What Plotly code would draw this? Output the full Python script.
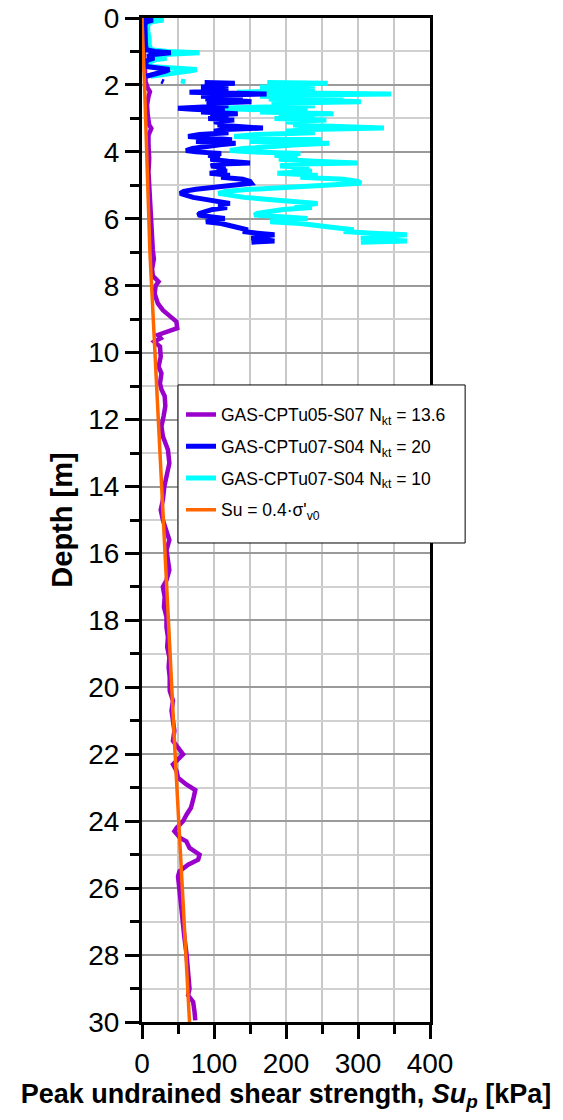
import plotly.graph_objects as go

# --- GAS-CPTu05-S07: peak undrained shear strength (Nkt = 13.6) ---
depth_cptu05 = [0.0, 0.3, 0.6, 1.0, 1.3, 1.6, 1.9, 2.1, 2.2, 2.35, 2.6, 2.9, 3.2, 3.3, 3.5, 3.8,
                4.2, 4.6, 5.0, 5.4, 5.8, 6.2, 6.6, 6.93, 7.2, 7.5, 7.7, 7.88, 8.0, 8.23, 8.53,
                8.73, 8.93, 9.07, 9.27, 9.37, 9.47, 9.57, 9.67, 9.82, 10.12, 10.42, 10.62,
                10.92, 11.1, 11.3, 11.6, 11.9, 12.2, 12.5, 12.9, 13.3, 13.7, 14.0, 14.4, 14.7,
                15.0, 15.3, 15.6, 15.9, 16.2, 16.5, 16.8, 17.0, 17.3, 17.6, 17.9, 18.2, 18.5,
                18.8, 19.1, 19.4, 19.7, 20.1, 20.4, 20.7, 21.0, 21.3, 21.6, 21.8, 22.0, 22.15,
                22.3, 22.5, 22.7, 22.9, 23.07, 23.27, 23.6, 23.8, 24.0, 24.2, 24.3, 24.5, 24.6,
                24.8, 25.0, 25.15, 25.3, 25.5, 25.65, 26.05, 26.55, 27.05, 27.5, 28.0, 28.5,
                29.0, 29.2, 29.4, 29.7, 29.95]
su_cptu05 = [0, 1, 2, 2.5, 3, 4, 5, 8, 11, 9, 7, 8, 10, 13, 9, 9,
             10, 9, 10, 11, 12, 12, 14, 15, 16.5, 14, 15, 23, 19, 17.5, 22,
             29, 40, 47.7, 49, 34, 22, 26, 17, 25, 26, 23, 27,
             25, 27, 31.5, 32.4, 30, 27, 29, 36, 38, 34, 31, 29, 26,
             29, 34, 38, 34, 36, 38, 34, 29, 31.5, 30.5, 34, 34, 36,
             35, 38, 37, 38.5, 38.5, 43, 41, 43, 45, 43, 50, 57, 50,
             43, 48, 50, 61.6, 74, 72, 68, 62, 57, 48, 45, 53, 61.6,
             66, 80, 78, 64, 52, 50, 52, 54, 57, 59, 62, 64,
             66, 64, 71, 73, 74]

# --- GAS-CPTu07-S04: net cone resistance qnet [MPa] (None = no reading) ---
depth_cptu07 = [0.00, 0.03, 0.06, 0.09, 0.12, 0.2, 0.4, 0.6, 0.8, 0.95, 1.0, 1.04, 1.07, 1.1,
                1.15, 1.2, 1.25, 1.32, 1.45, 1.5, 1.54, 1.58, 1.63, 1.68, 1.74, None, 1.88,
                1.91, None, 1.93, 1.95, 1.98, 2.02, 2.06, 2.1, 2.14, 2.18, 2.22, 2.25, 2.27,
                2.3, 2.34, 2.38, 2.42, 2.46, 2.5, 2.54, 2.58, 2.62, 2.66, 2.7, 2.73, 2.77,
                2.81, 2.86, 2.9, 2.95, 3.0, 3.05, 3.1, 3.15, 3.2, 3.25, 3.29, 3.33, 3.38,
                3.43, 3.48, 3.54, 3.59, 3.64, 3.69, 3.74, 3.79, 3.85, 3.9, 3.96, 4.0, 4.05,
                4.1, 4.16, 4.22, 4.28, 4.33, 4.37, 4.42, 4.47, 4.52, 4.58, 4.64, 4.7, 4.76,
                4.82, 4.88, 4.94, 5.0, 5.06, 5.12, 5.18, 5.24, 5.3, 5.36, 5.42, 5.48, 5.54,
                5.6, 5.66, 5.72, 5.78, 5.84, 5.89, 5.94, 5.99, 6.04, 6.09, 6.14, 6.2, 6.26,
                6.33, 6.38, 6.43, 6.48, 6.53, 6.58, 6.62, 6.66, 6.7]
qnet_cptu07 = [0.06, 0.16, 0.30, 0.20, 0.12, 0.08, 0.08, 0.10, 0.10, 0.12, 0.36, 0.80, 0.60, 0.24,
               0.16, 0.34, 0.18, 0.10, 0.12, 0.44, 0.76, 0.68, 0.50, 0.24, 0.12, None, 0.54,
               0.60, None, 1.74, 2.58, 1.90, 2.40, 1.64, 2.40, 1.70, 2.00, 1.32, 2.40, 3.46,
               2.20, 1.64, 2.80, 1.76, 2.60, 3.04, 2.00, 1.80, 2.40, 1.30, 1.00, 1.40, 2.30,
               1.64, 2.66, 1.90, 2.40, 1.84, 2.56, 2.00, 2.30, 2.10, 2.80, 3.36, 2.30, 2.00,
               2.40, 1.60, 1.28, 1.80, 2.50, 1.50, 2.60, 2.16, 1.70, 1.40, 1.22, 1.50, 2.20,
               1.84, 2.16, 1.90, 2.40, 3.00, 2.00, 1.92, 2.32, 2.08, 2.36, 1.88, 2.44, 2.20,
               2.80, 3.00, 3.04, 2.40, 1.90, 1.50, 1.16, 1.06, 1.24, 1.42, 1.76, 2.02, 2.44,
               2.12, 2.36, 1.96, 1.76, 1.60, 1.56, 2.00, 2.30, 1.92, 1.78, 2.20, 2.50, 2.66,
               2.94, 2.80, 3.20, 3.68, 3.30, 3.04, 3.30, 3.68, 3.04]
nkt_high = 20
nkt_low = 10

# --- Reference line: Su = 0.4 * effective vertical stress ---
depth_sigma = [0, 2, 7, 14, 22, 30]
sigma_v0_eff = [0, 8.75, 27.5, 67.5, 115, 165]


def su_from_qnet(qnet, nkt):
    return [None if q is None else q * 1000.0 / nkt for q in qnet]


su_cptu07_n20 = su_from_qnet(qnet_cptu07, nkt_high)
su_cptu07_n10 = su_from_qnet(qnet_cptu07, nkt_low)
su_ref = [0.4 * s for s in sigma_v0_eff]

FONT = "Liberation Sans, Arial, sans-serif"

fig = go.Figure()
fig.add_trace(go.Scatter(
    x=su_cptu05, y=depth_cptu05, mode="lines",
    line=dict(color="#9900CC", width=4.5),
    name="GAS-CPTu05-S07 N<sub>kt</sub> = 13.6",
    legendgroup="a", legendrank=1))
fig.add_trace(go.Scatter(
    x=su_cptu07_n10, y=depth_cptu07, mode="lines", connectgaps=False,
    line=dict(color="#00FFFF", width=5),
    name="GAS-CPTu07-S04 N<sub>kt</sub> = 10",
    legendgroup="c", legendrank=3))
fig.add_trace(go.Scatter(
    x=su_cptu07_n20, y=depth_cptu07, mode="lines", connectgaps=False,
    line=dict(color="#0000FF", width=5),
    name="GAS-CPTu07-S04 N<sub>kt</sub> = 20",
    legendgroup="b", legendrank=2))
fig.add_trace(go.Scatter(
    x=su_ref, y=depth_sigma, mode="lines",
    line=dict(color="#FF6600", width=3.5),
    name="Su = 0.4·σ'<sub>v0</sub>",
    legendgroup="d", legendrank=4))

fig.update_xaxes(
    range=[0, 400], dtick=100, tick0=0,
    showline=True, linewidth=3, linecolor="black", mirror=True,
    ticks="outside", ticklen=14, tickwidth=3, tickcolor="black",
    showgrid=True, gridcolor="#c8c8c8", gridwidth=1.5, zeroline=False,
    minor=dict(dtick=50, ticks="outside", ticklen=9, tickwidth=3, tickcolor="black",
               showgrid=True, gridcolor="#c8c8c8", gridwidth=1.5),
    tickfont=dict(family=FONT, size=28, color="black"),
    title=dict(text="<b>Peak undrained shear strength, <i>Su<sub>p</sub></i> [kPa]</b>",
               font=dict(family=FONT, size=27, color="black"), standoff=5),
)
fig.update_yaxes(
    range=[30, 0], dtick=2, tick0=0,
    showline=True, linewidth=3, linecolor="black", mirror=True,
    ticks="outside", ticklen=14, tickwidth=3, tickcolor="black",
    showgrid=True, gridcolor="#9a9a9a", gridwidth=1.5, zeroline=False,
    minor=dict(dtick=1, ticks="outside", ticklen=9, tickwidth=3, tickcolor="black",
               showgrid=True, gridcolor="#d0d0d0", gridwidth=1.5),
    tickfont=dict(family=FONT, size=28, color="black"),
    title=dict(text="<b>Depth [m]</b>", font=dict(family=FONT, size=29, color="black"),
               standoff=8),
)

# Legend frame drawn as a paper-space rectangle; legend entries sit inside it
fig.add_shape(type="rect", xref="paper", yref="paper",
              x0=0.125, x1=1.122, y0=0.4771, y1=0.6345,
              line=dict(color="black", width=1), fillcolor="white", layer="above")

fig.update_layout(
    width=563, height=1120,
    margin=dict(l=142, r=133, t=18, b=98, autoexpand=False),
    plot_bgcolor="white", paper_bgcolor="white",
    font=dict(family=FONT, color="black"),
    showlegend=True,
    legend=dict(x=0.1354, y=0.623, xanchor="left", yanchor="top",
                bgcolor="rgba(0,0,0,0)", borderwidth=0,
                font=dict(family=FONT, size=17.5, color="black"),
                tracegroupgap=6),
)

fig.write_html("out.html")
